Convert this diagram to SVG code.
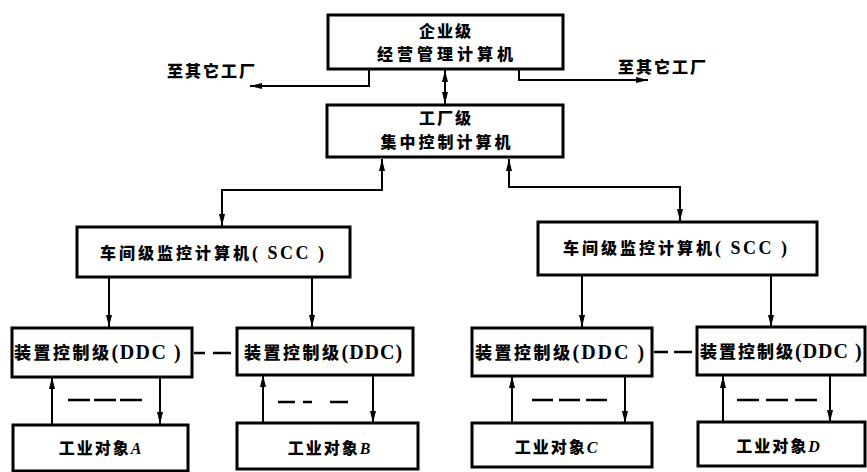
<svg xmlns="http://www.w3.org/2000/svg" width="867" height="472" viewBox="0 0 867 472">
<style>
.box{fill:#fff;stroke:#000;stroke-width:3}
.t{font-family:"Liberation Serif","Noto Sans CJK SC",serif;font-weight:bold;font-size:16px;fill:#000}
.k{font-family:"Noto Sans CJK SC",sans-serif;font-weight:900}
.l{font-family:"Liberation Serif",serif;font-weight:bold}
.c{stroke:#000;stroke-width:2;fill:none}
.d{stroke:#000;stroke-width:2.5;fill:none}
.i{font-style:italic}
</style>
<defs>
<marker id="ah" viewBox="0 0 12 6" refX="12" refY="3" markerWidth="12" markerHeight="6" orient="auto-start-reverse" markerUnits="userSpaceOnUse"><path d="M0,0 L12,3 L0,6 z" fill="#000"/></marker>
</defs>
<rect width="867" height="472" fill="#fff"/>
<g id="connectors">
<path class="c" d="M369,69 V86 H250" marker-end="url(#ah)"/>
<path class="c" d="M519,69 V80 H648" marker-end="url(#ah)"/>
<path class="c" d="M445,70 V104" marker-start="url(#ah)" marker-end="url(#ah)"/>
<path class="c" d="M382,159 V190 H222 V226" marker-start="url(#ah)" marker-end="url(#ah)"/>
<path class="c" d="M509,159 V187 H680 V221" marker-start="url(#ah)" marker-end="url(#ah)"/>
<path class="c" d="M109,278 V327" marker-end="url(#ah)"/>
<path class="c" d="M312,278 V327" marker-end="url(#ah)"/>
<path class="c" d="M582,276 V327" marker-end="url(#ah)"/>
<path class="c" d="M771,276 V327" marker-end="url(#ah)"/>
<path class="c" d="M52,424 V377" marker-end="url(#ah)"/>
<path class="c" d="M160,377 V424" marker-end="url(#ah)"/>
<path class="c" d="M263,423 V375" marker-end="url(#ah)"/>
<path class="c" d="M373,375 V423" marker-end="url(#ah)"/>
<path class="c" d="M512,423 V376" marker-end="url(#ah)"/>
<path class="c" d="M625,376 V423" marker-end="url(#ah)"/>
<path class="c" d="M723,422 V376" marker-end="url(#ah)"/>
<path class="c" d="M830,376 V422" marker-end="url(#ah)"/>
<path class="d" d="M194,353 H205 M213,353 H231"/>
<path class="d" d="M654,352 H668 M674,352 H692"/>
<path class="d" d="M68,400 H142" stroke-dasharray="22 4"/>
<path class="d" d="M278,402 H295 M303,402 H312 M330,402 H348"/>
<path class="d" d="M532,400 H607" stroke-dasharray="21 6"/>
<path class="d" d="M737,400 H817" stroke-dasharray="22 7"/>
</g>
<g id="label-left"><text class="t k" x="167" y="77" font-size="17" letter-spacing="2">至其它工厂</text></g>
<g id="label-right"><text class="t k" x="618" y="73" font-size="17" letter-spacing="2">至其它工厂</text></g>
<g id="enterprise">
<rect class="box" x="328" y="15" width="235" height="54"/>
<text class="t k" x="446" y="37" font-size="15" text-anchor="middle" letter-spacing="2">企业级</text>
<text class="t k" x="447" y="60" font-size="15" text-anchor="middle" letter-spacing="4">经营管理计算机</text>
</g>
<g id="factory">
<rect class="box" x="327" y="105" width="236" height="52"/>
<text class="t k" x="446" y="124" text-anchor="middle" letter-spacing="2">工厂级</text>
<text class="t k" x="447" y="148" text-anchor="middle" letter-spacing="3">集中控制计算机</text>
</g>
<g id="scc-left">
<rect class="box" x="77" y="227" width="273" height="50"/>
<text class="t" x="100" y="259"><tspan class="k" letter-spacing="3">车间级监控计算机</tspan><tspan class="l" font-size="18" letter-spacing="2.5">( SCC )</tspan></text>
</g>
<g id="scc-right">
<rect class="box" x="538" y="222" width="279" height="53"/>
<text class="t" x="563" y="254"><tspan class="k" letter-spacing="3">车间级监控计算机</tspan><tspan class="l" font-size="18" letter-spacing="2.5">( SCC )</tspan></text>
</g>
<g id="ddc-a">
<rect class="box" x="12" y="328" width="180" height="49"/>
<text class="t" x="14" y="359"><tspan class="k" font-size="17" letter-spacing="2.5">装置控制级</tspan><tspan class="l" font-size="20" letter-spacing="1.5">(DDC )</tspan></text>
</g>
<g id="ddc-b">
<rect class="box" x="237" y="328" width="176" height="47"/>
<text class="t" x="244" y="359"><tspan class="k" font-size="17" letter-spacing="2.5">装置控制级</tspan><tspan class="l" font-size="20" letter-spacing="1">(DDC)</tspan></text>
</g>
<g id="ddc-c">
<rect class="box" x="472" y="328" width="180" height="48"/>
<text class="t" x="475" y="359"><tspan class="k" font-size="17" letter-spacing="2.5">装置控制级</tspan><tspan class="l" font-size="20" letter-spacing="2">(DDC )</tspan></text>
</g>
<g id="ddc-d">
<rect class="box" x="697" y="327" width="168" height="48"/>
<text class="t" x="700" y="358"><tspan class="k" font-size="17" letter-spacing="2">装置控制级</tspan><tspan class="l" font-size="20" letter-spacing="1">(DDC )</tspan></text>
</g>
<g id="obj-a">
<rect class="box" x="13" y="425" width="175" height="46"/>
<text class="t" x="100" y="454" text-anchor="middle" font-size="17"><tspan class="k" letter-spacing="2">工业对象</tspan><tspan class="l i">A</tspan></text>
</g>
<g id="obj-b">
<rect class="box" x="237" y="423" width="181" height="46"/>
<text class="t" x="329" y="454" text-anchor="middle" font-size="17"><tspan class="k" letter-spacing="2">工业对象</tspan><tspan class="l i">B</tspan></text>
</g>
<g id="obj-c">
<rect class="box" x="472" y="423" width="180" height="44"/>
<text class="t" x="556" y="453" text-anchor="middle" font-size="17"><tspan class="k" letter-spacing="2">工业对象</tspan><tspan class="l i">C</tspan></text>
</g>
<g id="obj-d">
<rect class="box" x="698" y="422" width="167" height="44"/>
<text class="t" x="778" y="452" text-anchor="middle" font-size="17"><tspan class="k" letter-spacing="2">工业对象</tspan><tspan class="l i">D</tspan></text>
</g>
</svg>
